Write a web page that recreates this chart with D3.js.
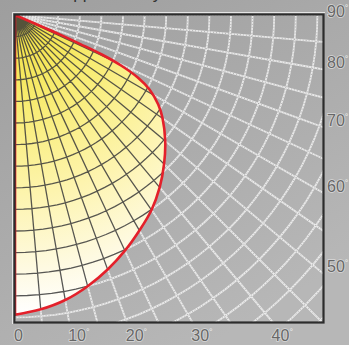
<!DOCTYPE html>
<html>
<head>
<meta charset="utf-8">
<script src="https://cdn.jsdelivr.net/npm/d3@7"></script>
<style>
html, body { margin: 0; padding: 0; background: #a9a9a9; }
svg { display: block; }
text { font-family: "Liberation Sans", Arial, sans-serif; }
</style>
</head>
<body>
<svg id="chart" width="349" height="345"></svg>
<script>
// Meridian labels round the frame (degrees of longitude).
var bottomLabels = [0, 10, 20, 30, 40];
var rightLabels = [90, 80, 70, 60, 50];

// Graticule step, degrees [lon, lat].
var gridStep = [5, 5];

// Boundary of the shaded region.
var boundaryLon = [0, 5, 10, 15, 20, 25, 30, 35, 40, 45, 50, 55, 58, 61, 63, 64.5, 65.5, 66, 66.5, 67];
var boundaryLat = [20.6, 21.6, 23, 25, 27.3, 29.8, 32.4, 34.9, 37.9, 41.2, 44.6, 48.3, 50.9, 54.4, 58.1, 62.7, 67.8, 73.3, 78.9, 90];

var title = 'Apparent sky area';

var width = 349, height = 345;
var frame = {x0: 15, y0: 15, x1: 323, y1: 322};

var svg = d3.select('#chart');
var defs = svg.append('defs');

// Background gradient.
var bg = defs.append('linearGradient')
    .attr('id', 'bg')
    .attr('x1', 0).attr('y1', 0).attr('x2', 0.6).attr('y2', 1);
bg.append('stop').attr('offset', 0).attr('stop-color', '#9e9e9e');
bg.append('stop').attr('offset', 1).attr('stop-color', '#b7b7b7');

// Yellow fill, brightest at the pole.
var fill = defs.append('radialGradient')
    .attr('id', 'fill')
    .attr('gradientUnits', 'userSpaceOnUse')
    .attr('cx', frame.x0).attr('cy', frame.y0).attr('r', 300);
[[0, '#f1df3a'], [0.3, '#f8ec72'], [0.6, '#fdf4ae'], [0.85, '#fefae2'], [1, '#ffffff']]
    .forEach(function(s) {
        fill.append('stop').attr('offset', s[0]).attr('stop-color', s[1]);
    });

defs.append('clipPath').attr('id', 'frameClip')
    .append('rect')
    .attr('x', frame.x0).attr('y', frame.y0)
    .attr('width', frame.x1 - frame.x0).attr('height', frame.y1 - frame.y0);

svg.append('rect')
    .attr('width', width).attr('height', height)
    .attr('fill', 'url(#bg)');

// Polar azimuthal view, pole in the top left corner.
var projection = d3.geoAzimuthalEquidistant()
    .rotate([0, -90])
    .scale(247.5)
    .translate([frame.x0, frame.y0])
    .precision(0.2);
var path = d3.geoPath(projection);

var graticule = d3.geoGraticule()
    .extentMinor([[-5, -25], [95, 89.999]])
    .extentMajor([[-5, -25], [95, 89.999]])
    .step(gridStep);

var plot = svg.append('g').attr('clip-path', 'url(#frameClip)');

// Outer (light) grid.
plot.append('path')
    .datum(graticule())
    .attr('d', path)
    .attr('fill', 'none')
    .attr('stroke', '#f4f4f4')
    .attr('stroke-width', 1.8)
    .attr('stroke-opacity', 0.85);
plot.append('path')
    .datum(graticule())
    .attr('d', path)
    .attr('fill', 'none')
    .attr('stroke', '#6e6e6e')
    .attr('stroke-width', 0.8)
    .attr('stroke-dasharray', '1,2')
    .attr('stroke-opacity', 0.55);

// Shaded region: meridian 0 down to the boundary, then back to the pole.
var boundary = boundaryLon.map(function(lon, i) {
    return projection([lon, boundaryLat[i]]);
});
var pole = projection([0, 90]);
var line = d3.line().curve(d3.curveCatmullRom.alpha(0.5));
var regionD = 'M' + pole[0] + ',' + pole[1] + 'L' + line(boundary).slice(1) + 'Z';

defs.append('clipPath').attr('id', 'regionClip')
    .append('path').attr('d', regionD);

plot.append('path')
    .attr('d', regionD)
    .attr('fill', 'url(#fill)');

plot.append('g')
    .attr('clip-path', 'url(#regionClip)')
    .append('path')
    .datum(graticule())
    .attr('d', path)
    .attr('fill', 'none')
    .attr('stroke', '#3a3a3a')
    .attr('stroke-width', 1.3)
    .attr('stroke-opacity', 0.85);

plot.append('path')
    .attr('d', regionD)
    .attr('fill', 'none')
    .attr('stroke', '#e4202a')
    .attr('stroke-width', 2.6)
    .attr('stroke-linejoin', 'round');

// Frame with a light bevel outside it.
svg.append('path')
    .attr('d', 'M' + (frame.x0 - 2.5) + ',' + (frame.y1 + 2) +
               'V' + (frame.y0 - 2.5) + 'H' + (frame.x1 + 2))
    .attr('fill', 'none')
    .attr('stroke', '#e6e6e6')
    .attr('stroke-width', 1);
svg.append('rect')
    .attr('x', frame.x0 - 0.5).attr('y', frame.y0 - 0.5)
    .attr('width', frame.x1 - frame.x0 + 1).attr('height', frame.y1 - frame.y0 + 1)
    .attr('fill', 'none')
    .attr('stroke', '#2c2c2c')
    .attr('stroke-width', 2.2);

// Where a meridian leaves the frame (bottom or right edge).
function edgeCrossing(lon) {
    var p0 = projection([lon, 90]);
    var p1 = projection([lon, 0]);
    var dx = p1[0] - p0[0], dy = p1[1] - p0[1];
    var tB = Math.abs(dy) > 1e-6 ? (frame.y1 - p0[1]) / dy : Infinity;
    var tR = Math.abs(dx) > 1e-6 ? (frame.x1 - p0[0]) / dx : Infinity;
    if (tB < 0) tB = Infinity;
    if (tR < 0) tR = Infinity;
    var t = Math.min(tB, tR);
    return [p0[0] + t * dx, p0[1] + t * dy];
}

function addLabel(g, lon, x, y) {
    var t = g.append('text')
        .attr('x', x).attr('y', y)
        .attr('font-size', 16)
        .attr('fill', '#676767')
        .attr('stroke', '#d8d8d8')
        .attr('stroke-width', 1.6)
        .attr('paint-order', 'stroke');
    t.append('tspan').text(lon);
    if (lon !== 0) {
        t.append('tspan')
            .attr('font-size', 9)
            .attr('dy', -6)
            .attr('fill', '#eeeeee')
            .attr('stroke', 'none')
            .text('°');
    }
}

var labels = svg.append('g');
bottomLabels.forEach(function(lon) {
    var p = edgeCrossing(lon);
    addLabel(labels, lon, p[0] - 1, 341);
});
rightLabels.forEach(function(lon) {
    var p = edgeCrossing(lon);
    addLabel(labels, lon, frame.x1 + 4, Math.max(p[1] - 1, 17));
});

// Title sits above the picture; only its descenders show.
svg.append('text')
    .attr('x', 62).attr('y', -1)
    .attr('font-size', 17)
    .attr('fill', '#333')
    .text(title);
</script>
</body>
</html>
